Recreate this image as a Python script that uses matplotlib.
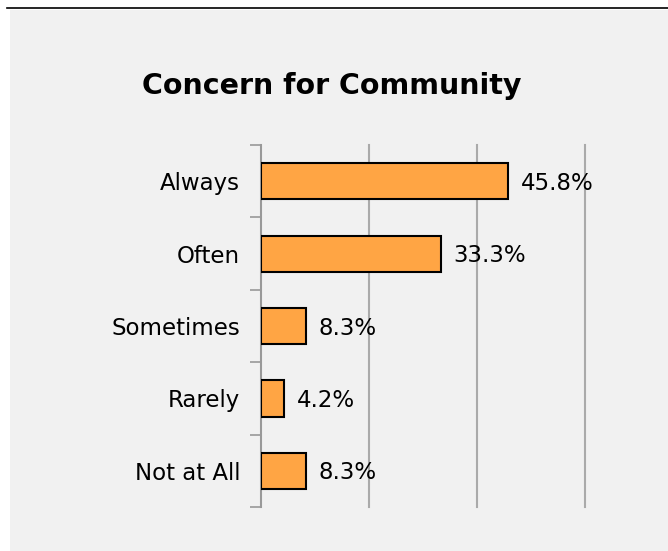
import matplotlib.pyplot as plt
from matplotlib.patches import Rectangle
from matplotlib.lines import Line2D

# 数据
categories = ["Always", "Often", "Sometimes", "Rarely", "Not at All"]
percents = [45.8, 33.3, 8.3, 4.2, 8.3]
grid_ticks = [20, 40, 60]

fig = plt.figure(figsize=(6.68, 5.51), dpi=100)
fig.patch.set_facecolor("white")

# 灰色背景面板 + 顶部黑线
fig.patches.append(Rectangle((10 / 668, 0), 1, 1 - 10 / 551, transform=fig.transFigure,
                             facecolor="#f1f1f1", edgecolor="none", zorder=-10))
fig.lines.append(Line2D([7 / 668, 1], [1 - 8 / 551, 1 - 8 / 551], transform=fig.transFigure,
                        color="black", linewidth=1.2))

ax = fig.add_axes([261 / 668, 1 - 507 / 551, 324 / 668, 362 / 551])
ax.set_facecolor("none")

y = list(range(len(categories)))
ax.barh(y, percents, height=0.5, color="#ffa544", edgecolor="black", linewidth=1.5, zorder=3)
for yi, p in zip(y, percents):
    ax.text(p + 2.4, yi + 0.03, f"{p}%", va="center", ha="left", fontsize=16.5, zorder=4)

ax.set_xlim(0, 60)
ax.set_ylim(len(categories) - 0.5, -0.5)

ax.set_yticks(y)
ax.set_yticklabels(categories, fontsize=16.5)
ax.tick_params(axis="y", which="major", length=0, pad=15)
ax.set_yticks([i - 0.5 for i in range(len(categories) + 1)], minor=True)
ax.tick_params(axis="y", which="minor", length=8, width=1.2, color="#999999")

ax.set_xticks(grid_ticks)
ax.tick_params(axis="x", length=0, labelbottom=False)
ax.grid(axis="x", color="#aaaaaa", linewidth=1.5, zorder=1)
for gl in ax.get_xgridlines():
    gl.set_clip_on(False)

for s in ["top", "right", "bottom"]:
    ax.spines[s].set_visible(False)
ax.spines["left"].set_color("#999999")
ax.spines["left"].set_linewidth(1.5)

fig.text(332 / 668, 1 - 86 / 551, "Concern for Community", ha="center", va="center",
         fontsize=20.5, fontweight="bold")

fig.savefig("out.png", dpi=100)
